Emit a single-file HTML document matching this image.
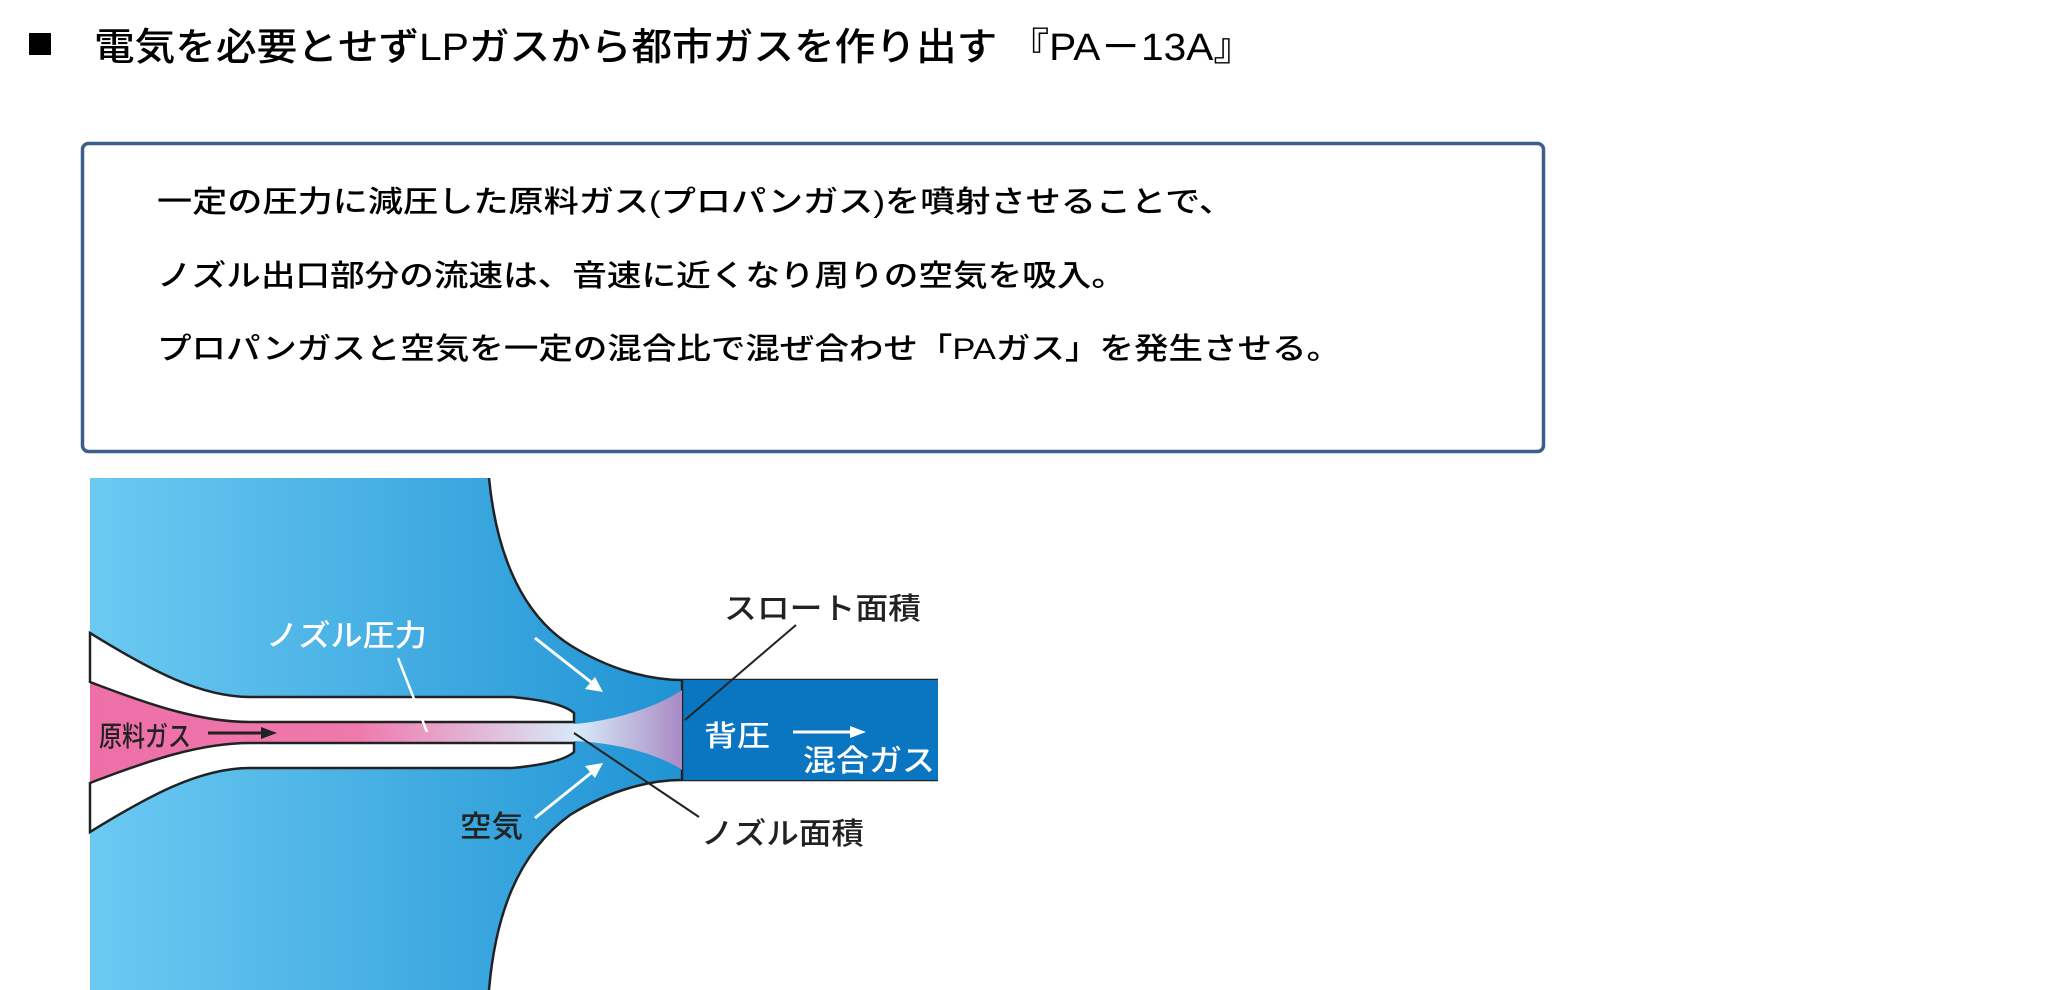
<!DOCTYPE html>
<html><head><meta charset="utf-8"><style>
html,body{margin:0;padding:0;background:#fff;}
svg{display:block;}
text{font-family:"Liberation Sans","Noto Sans CJK JP",sans-serif;font-weight:500;}
</style></head><body>
<svg width="2048" height="990" viewBox="0 0 2048 990" xmlns="http://www.w3.org/2000/svg">
<defs>
<linearGradient id="bg" x1="0" y1="0" x2="1" y2="0">
<stop offset="0" stop-color="#6ccaf2"/><stop offset="0.7" stop-color="#1f93d4"/><stop offset="1" stop-color="#0a86cc"/>
</linearGradient>
<linearGradient id="core" x1="0" y1="0" x2="1" y2="0">
<stop offset="0" stop-color="#ee6fa8"/><stop offset="0.55" stop-color="#ef78ac"/><stop offset="1" stop-color="#d8e8f8"/>
</linearGradient>
<linearGradient id="plume" x1="0" y1="0" x2="1" y2="0">
<stop offset="0" stop-color="#d8eefa"/><stop offset="1" stop-color="#a98ac4"/>
</linearGradient>
</defs>
<rect x="29" y="33" width="22" height="22" fill="#000"/>
<text x="94" y="60" font-size="38" textLength="1160" lengthAdjust="spacingAndGlyphs">電気を必要とせずLPガスから都市ガスを作り出す 『PA－13A』</text>
<rect x="82.5" y="143.5" width="1461" height="308" rx="6" fill="#fff" stroke="#3c5e8c" stroke-width="3.5"/>
<text x="157" y="212" font-size="30" textLength="1077" lengthAdjust="spacingAndGlyphs">一定の圧力に減圧した原料ガス(プロパンガス)を噴射させることで、</text>
<text x="157" y="286" font-size="30" textLength="969" lengthAdjust="spacingAndGlyphs">ノズル出口部分の流速は、音速に近くなり周りの空気を吸入。</text>
<text x="157" y="359" font-size="30" textLength="1184" lengthAdjust="spacingAndGlyphs">プロパンガスと空気を一定の混合比で混ぜ合わせ「PAガス」を発生させる。</text>
<rect x="90" y="478" width="848" height="512" fill="url(#bg)"/>
<path d="M489 478 C495 540 515 610 570 645 C610 670 650 680 682 680 L938 680 L938 478 Z" fill="#fff"/>
<path d="M489 478 C495 540 515 610 570 645 C610 670 650 680 682 680 L938 680" fill="none" stroke="#222" stroke-width="2.5"/>
<path d="M489 990 C495 920 515 855 570 815 C610 790 650 780 682 780 L938 780 L938 990 Z" fill="#fff"/>
<path d="M489 990 C495 920 515 855 570 815 C610 790 650 780 682 780 L938 780" fill="none" stroke="#222" stroke-width="2.5"/>
<rect x="682" y="680" width="256" height="100" fill="#0a76c2"/>
<line x1="682" y1="680" x2="682" y2="780" stroke="#222" stroke-width="2.5"/>
<path d="M90 682 C150 705 200 722 250 722 L574 722 L574 743 L250 743 C200 743 150 760 90 783 Z" fill="url(#core)"/>
<path d="M90 633 C150 670 200 697 250 697 L512 697 C545 700 565 705 574 713 L574 722 L250 722 C200 722 150 705 90 682 Z" fill="#fff" stroke="#222" stroke-width="2.5"/>
<path d="M90 832 C150 795 200 768 250 768 L512 768 C545 765 565 760 574 752 L574 743 L250 743 C200 743 150 760 90 783 Z" fill="#fff" stroke="#222" stroke-width="2.5"/>
<path d="M574 724 C620 720 660 705 682 690 L682 770 C660 755 620 743 574 741 Z" fill="url(#plume)"/>
<line x1="535" y1="638" x2="596" y2="686" stroke="#fff" stroke-width="3"/>
<polygon points="603,692 585,689 595,677" fill="#fff"/>
<line x1="535" y1="818" x2="596" y2="769" stroke="#fff" stroke-width="3"/>
<polygon points="603,763 595,778 585,766" fill="#fff"/>
<line x1="793" y1="732" x2="855" y2="732" stroke="#fff" stroke-width="3"/>
<polygon points="866,732 850,726 850,738" fill="#fff"/>
<line x1="208" y1="733" x2="265" y2="733" stroke="#222" stroke-width="3"/>
<polygon points="277,733 261,727 261,739" fill="#222"/>
<line x1="398" y1="658" x2="427" y2="732" stroke="#fff" stroke-width="2.5"/>
<line x1="574" y1="733" x2="699" y2="817" stroke="#222" stroke-width="2"/>
<line x1="796" y1="625" x2="685" y2="720" stroke="#222" stroke-width="2"/>
<text x="266" y="646" font-size="30" fill="#fff" textLength="161" lengthAdjust="spacingAndGlyphs">ノズル圧力</text>
<text x="99" y="746" font-size="28" fill="#222" textLength="92" lengthAdjust="spacingAndGlyphs">原料ガス</text>
<text x="460" y="837" font-size="30" fill="#222" textLength="63" lengthAdjust="spacingAndGlyphs">空気</text>
<text x="701" y="844" font-size="30" fill="#222" textLength="163" lengthAdjust="spacingAndGlyphs">ノズル面積</text>
<text x="724" y="619" font-size="30" fill="#222" textLength="197" lengthAdjust="spacingAndGlyphs">スロート面積</text>
<text x="704" y="746" font-size="29" fill="#fff" textLength="66" lengthAdjust="spacingAndGlyphs">背圧</text>
<text x="803" y="771" font-size="30" fill="#fff" textLength="132" lengthAdjust="spacingAndGlyphs">混合ガス</text>
</svg>
</body></html>
